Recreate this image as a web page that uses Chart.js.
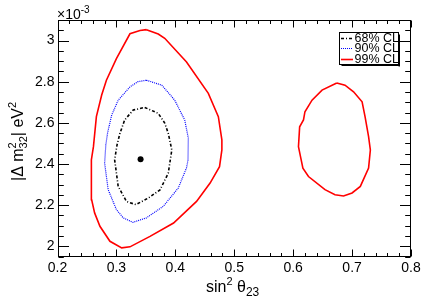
<!DOCTYPE html>
<html><head><meta charset="utf-8">
<style>html,body{margin:0;padding:0;background:#fff}</style>
<script src="https://cdn.jsdelivr.net/npm/chart.js@4/dist/chart.umd.min.js"></script>
</head><body>
<canvas id="c" width="441" height="297"></canvas>
<script>
// ---- data (sin^2 theta23, |dm2_32| in 1e-3 eV^2) ----
const xTickValues = [0.2, 0.3, 0.4, 0.5, 0.6, 0.7, 0.8];
const yTickValues = [2.0, 2.2, 2.4, 2.6, 2.8, 3.0];
const legendLabels = ['68% CL', '90% CL', '99% CL'];
const bestFit = [[0.341, 2.423]];
const cl68 = [[0.348,2.675],[0.371,2.646],[0.382,2.599],[0.388,2.549],[0.394,2.468],[0.388,2.355],[0.374,2.274],[0.354,2.234],[0.333,2.202],[0.317,2.218],[0.303,2.291],[0.297,2.420],[0.301,2.492],[0.306,2.549],[0.314,2.614],[0.3285,2.662]];
const cl90 = [[0.351,2.807],[0.377,2.783],[0.399,2.710],[0.416,2.613],[0.422,2.526],[0.4215,2.420],[0.419,2.381],[0.405,2.283],[0.3795,2.194],[0.351,2.138],[0.328,2.116],[0.3115,2.138],[0.300,2.178],[0.286,2.275],[0.280,2.404],[0.282,2.492],[0.285,2.551],[0.292,2.638],[0.303,2.710],[0.323,2.775],[0.3365,2.800]];
const cl99Left = [[0.351,3.053],[0.371,3.032],[0.382,3.011],[0.419,2.896],[0.456,2.743],[0.473,2.630],[0.479,2.517],[0.479,2.468],[0.475,2.387],[0.459,2.307],[0.436,2.218],[0.397,2.113],[0.357,2.048],[0.323,1.997],[0.309,1.992],[0.289,2.024],[0.272,2.097],[0.263,2.162],[0.258,2.226],[0.257,2.323],[0.258,2.420],[0.261,2.484],[0.266,2.630],[0.275,2.735],[0.283,2.807],[0.300,2.912],[0.323,3.033],[0.340,3.049]];
const cl99Right = [[0.674,2.794],[0.688,2.783],[0.7025,2.751],[0.717,2.702],[0.722,2.630],[0.728,2.533],[0.731,2.468],[0.728,2.380],[0.714,2.291],[0.700,2.259],[0.6855,2.244],[0.671,2.250],[0.654,2.275],[0.626,2.339],[0.6165,2.380],[0.613,2.428],[0.609,2.484],[0.611,2.581],[0.6175,2.614],[0.620,2.654],[0.632,2.710],[0.649,2.759]];

const FONT = "'Liberation Sans', Arial, Helvetica, sans-serif";
const closed = arr => arr.concat([arr[0]]).map(p => ({x: p[0], y: p[1]}));

const lineDs = (label, pts, color, width, dash, inLegend) => ({
  label, data: closed(pts), showLine: true, borderColor: color, borderWidth: width,
  borderDash: dash, pointRadius: 0, tension: 0, fill: false, inLegend
});

const datasets = [
  {label: 'best fit', data: bestFit.map(p => ({x: p[0], y: p[1]})), showLine: false,
   pointRadius: 3, pointBackgroundColor: '#000', pointBorderColor: '#000', pointBorderWidth: 0},
  lineDs(legendLabels[0], cl68, '#000000', 1.6, [3, 2, 1, 2], true),
  lineDs(legendLabels[1], cl90, '#0000ff', 1.2, [1, 1], true),
  lineDs(legendLabels[2], cl99Left, '#ff0000', 1.6, [], true),
  lineDs(legendLabels[2], cl99Right, '#ff0000', 1.6, [], false)
];

function drawRich(ctx, parts, x, y, base) {
  let cx = x;
  for (const p of parts) {
    if (p.t !== undefined) {
      const s = p.size || base;
      ctx.font = s + 'px ' + FONT;
      ctx.fillText(p.t, cx, y + (p.dy || 0));
      cx += ctx.measureText(p.t).width;
    } else {
      const s = p.size;
      ctx.font = s + 'px ' + FONT;
      const w1 = ctx.measureText(p.sup).width, w2 = ctx.measureText(p.sub).width;
      ctx.fillText(p.sup, cx, y + p.supDy);
      ctx.fillText(p.sub, cx, y + p.subDy);
      cx += Math.max(w1, w2);
    }
  }
}

const framePlugin = {
  id: 'frame',
  afterDraw(chart) {
    const ctx = chart.ctx;
    const {left, right, top, bottom} = chart.chartArea;
    const xs = chart.scales.x, ys = chart.scales.y;
    ctx.save();
    ctx.strokeStyle = '#000'; ctx.lineWidth = 1; ctx.setLineDash([]);
    const L = Math.round(left) + 0.5, R = Math.round(right) - 0.5, T = Math.round(top) + 0.5, B = Math.round(bottom) - 0.5;
    ctx.strokeRect(L, T, R - L, B - T);
    const minorPositions = (majors, n, min, max) => {
      const step = (majors[1] - majors[0]) / n, out = [];
      for (let v = majors[0] - step; v >= min - 1e-9; v -= step) out.push(v);
      for (let i = 0; i < majors.length; i++) {
        for (let k = 1; k < n; k++) {
          const v = majors[i] + k * step;
          if (v <= max + 1e-9) out.push(v);
        }
      }
      for (let v = majors[majors.length - 1] + n * step; v <= max + 1e-9; v += step) out.push(v);
      return out;
    };
    ctx.beginPath();
    const xMaj = 7, xMin = 3.5, yMaj = 10.5, yMin = 5.3;
    xTickValues.forEach(v => {
      const p = Math.round(xs.getPixelForValue(v)) + 0.5;
      ctx.moveTo(p, B); ctx.lineTo(p, B - xMaj);
      ctx.moveTo(p, T); ctx.lineTo(p, T + xMaj);
    });
    minorPositions(xTickValues, 5, xs.min, xs.max).forEach(v => {
      const p = Math.round(xs.getPixelForValue(v)) + 0.5;
      ctx.moveTo(p, B); ctx.lineTo(p, B - xMin);
      ctx.moveTo(p, T); ctx.lineTo(p, T + xMin);
    });
    yTickValues.forEach(v => {
      const p = Math.round(ys.getPixelForValue(v)) + 0.5;
      ctx.moveTo(L, p); ctx.lineTo(L + yMaj, p);
      ctx.moveTo(R, p); ctx.lineTo(R - yMaj, p);
    });
    minorPositions(yTickValues, 4, ys.min, ys.max).forEach(v => {
      const p = Math.round(ys.getPixelForValue(v)) + 0.5;
      ctx.moveTo(L, p); ctx.lineTo(L + yMin, p);
      ctx.moveTo(R, p); ctx.lineTo(R - yMin, p);
    });
    ctx.stroke();

    // exponent label
    ctx.fillStyle = '#000'; ctx.textBaseline = 'alphabetic'; ctx.textAlign = 'left';
    drawRich(ctx, [{t: '\u00d710'}, {t: '-3', size: 10, dy: -6}], 57, 18.5, 14);

    // x title
    drawRich(ctx, [{t: 'sin'}, {t: '2', size: 11, dy: -7}, {t: ' \u03b8'}, {t: '23', size: 12, dy: 4}], 206, 292, 16);

    // y title (rotated)
    ctx.save();
    ctx.translate(23, 181);
    ctx.rotate(-Math.PI / 2);
    drawRich(ctx, [{t: '|\u0394 m'}, {sup: '2', sub: '32', size: 11, supDy: -7, subDy: 4}, {t: '| eV'}, {t: '2', size: 11, dy: -7}], 0, 0, 16);
    ctx.restore();

    // legend
    const bx = 339.5, by = 32.5, bw = 59, bh = 32;
    ctx.fillStyle = '#fff';
    ctx.fillRect(bx, by, bw, bh);
    ctx.strokeStyle = '#000'; ctx.lineWidth = 1;
    ctx.strokeRect(bx, by, bw, bh);
    ctx.fillStyle = '#000';
    ctx.fillRect(bx + bw, by + 2, 1.5, bh);
    ctx.fillRect(bx + 2, by + bh, bw - 0.5, 1.5);
    const items = chart.data.datasets.filter(d => d.inLegend);
    items.forEach((d, i) => {
      const cy = 37.8 + i * 10.6;
      ctx.save();
      ctx.strokeStyle = d.borderColor; ctx.lineWidth = Math.min(d.borderWidth, 1.6);
      ctx.setLineDash(d.borderDash || []);
      ctx.beginPath(); ctx.moveTo(341, Math.round(cy) + 0.5); ctx.lineTo(353, Math.round(cy) + 0.5); ctx.stroke();
      ctx.restore();
      ctx.fillStyle = '#000';
      ctx.font = '12.5px ' + FONT;
      ctx.textBaseline = 'middle';
      ctx.fillText(d.label, 354.5, cy + 0.5);
    });
    ctx.restore();
  }
};

const fmt = v => String(Number(Number(v).toFixed(1)));

new Chart(document.getElementById('c'), {
  type: 'scatter',
  data: {datasets},
  options: {
    responsive: false, animation: false, devicePixelRatio: 1,
    layout: {padding: {top: 20, right: 30, left: 0, bottom: 0}},
    plugins: {legend: {display: false}, tooltip: {enabled: false}},
    scales: {
      x: {
        type: 'linear', min: 0.2, max: 0.8,
        afterBuildTicks: s => { s.ticks = xTickValues.map(v => ({value: v})); },
        afterFit: s => { s.height = 40.5; },
        grid: {display: false, drawTicks: false}, border: {display: false},
        ticks: {padding: 3, autoSkip: false, maxRotation: 0, color: '#000', font: {family: FONT, size: 14}, callback: fmt}
      },
      y: {
        type: 'linear', min: 1.95, max: 3.1,
        afterBuildTicks: s => { s.ticks = yTickValues.map(v => ({value: v})); },
        afterFit: s => { s.width = 57.5; },
        grid: {display: false, drawTicks: false}, border: {display: false},
        ticks: {padding: 3, autoSkip: false, color: '#000', font: {family: FONT, size: 14}, callback: fmt}
      }
    }
  },
  plugins: [framePlugin]
});
</script>
</body></html>
